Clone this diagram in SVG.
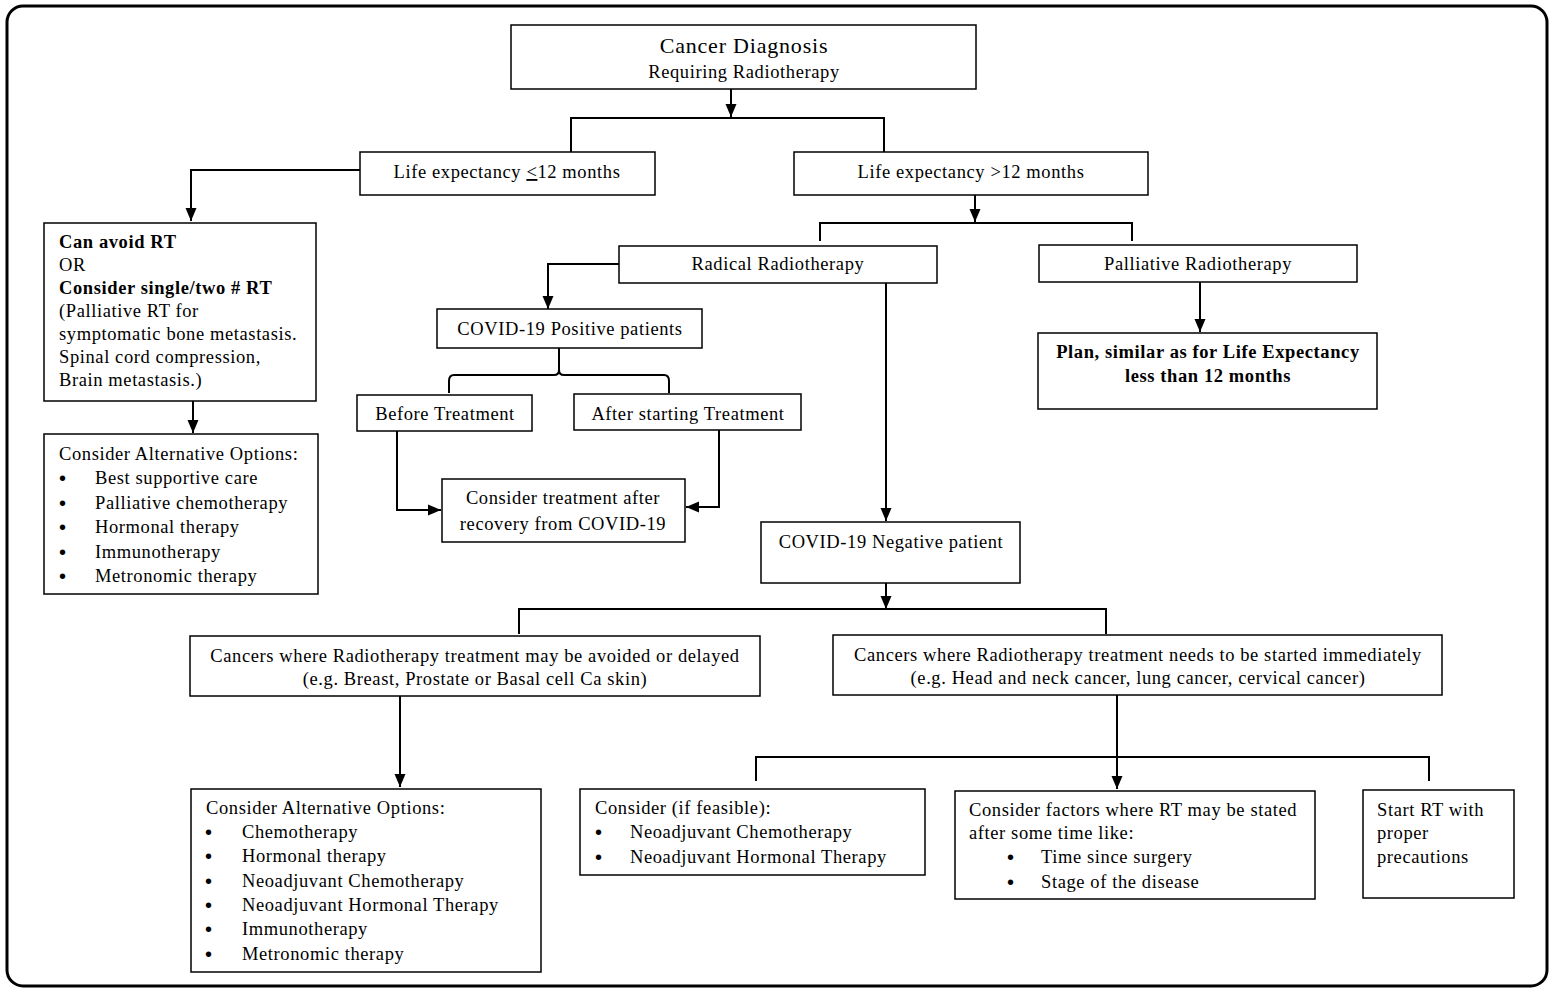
<svg xmlns="http://www.w3.org/2000/svg" width="1559" height="993" viewBox="0 0 1559 993">
<defs>
<marker id="ah" markerWidth="13" markerHeight="13" viewBox="0 0 13 13" refX="13" refY="6.5" orient="auto" markerUnits="userSpaceOnUse">
<path d="M0,1 L13,6.5 L0,12 Z" fill="#000"/>
</marker>
<style>
.b{fill:#fff;stroke:#000;stroke-width:1.5}
.t{font-family:"Liberation Serif","Times New Roman",serif;font-size:18.5px;letter-spacing:0.6px;fill:#000}
.c{text-anchor:middle}
.bd{font-weight:bold}
.bu{font-family:"Liberation Sans",Arial,sans-serif;font-size:20px;fill:#000}
.ln{fill:none;stroke:#000;stroke-width:2}
.ar{fill:none;stroke:#000;stroke-width:2;marker-end:url(#ah)}
</style>
</defs>
<rect x="0" y="0" width="1559" height="993" fill="#fff"/>
<rect x="7" y="6" width="1540" height="980" rx="16" ry="16" fill="none" stroke="#000" stroke-width="3"/>

<g id="connectors">
<path class="ar" d="M731,89 V117"/>
<path class="ln" d="M571,152 V118 H884 V152"/>
<path class="ar" d="M360,170 H191 V221"/>
<path class="ar" d="M975,195 V222"/>
<path class="ln" d="M820,241 V223 H1132 V241"/>
<path class="ar" d="M619,264 H548 V309"/>
<path class="ar" d="M1200,282 V332"/>
<path class="ar" d="M193,401 V433"/>
<path class="ln" d="M559,348 V370 Q559,375 554,375 H454 Q449,375 449,381 V393"/>
<path class="ln" d="M559,370 Q559,375 564,375 H664 Q669,375 669,381 V393"/>
<path class="ar" d="M397,431 V510 H441"/>
<path class="ar" d="M719,430 V507 H686"/>
<path class="ar" d="M886,283 V521"/>
<path class="ar" d="M886,583 V609"/>
<path class="ln" d="M519,634 V609 H1106 V634"/>
<path class="ar" d="M400,696 V787"/>
<path class="ar" d="M1117,695 V789"/>
<path class="ln" d="M756,781 V757 H1429 V781"/>
</g>

<g id="n-diagnosis">
<rect class="b" x="511" y="25" width="465" height="64"/>
<text class="t c" x="744" y="53" style="font-size:22px;letter-spacing:0.8px">Cancer Diagnosis</text>
<text class="t c" x="744" y="78">Requiring Radiotherapy</text>
</g>

<g id="n-le-le12">
<rect class="b" x="360" y="152" width="295" height="43"/>
<text class="t c" x="507" y="178">Life expectancy <tspan text-decoration="underline">&lt;</tspan>12 months</text>
</g>

<g id="n-le-gt12">
<rect class="b" x="794" y="152" width="354" height="43"/>
<text class="t c" x="971" y="178">Life expectancy &gt;12 months</text>
</g>

<g id="n-avoid">
<rect class="b" x="44" y="223" width="272" height="178"/>
<text class="t bd" x="59" y="248">Can avoid RT</text>
<text class="t" x="59" y="271">OR</text>
<text class="t bd" x="59" y="294">Consider single/two # RT</text>
<text class="t" x="59" y="317">(Palliative RT for</text>
<text class="t" x="59" y="340">symptomatic bone metastasis.</text>
<text class="t" x="59" y="363">Spinal cord compression,</text>
<text class="t" x="59" y="386">Brain metastasis.)</text>
</g>

<g id="n-alt-left">
<rect class="b" x="44" y="434" width="274" height="160"/>
<text class="t" x="59" y="460">Consider Alternative Options:</text>
<text class="bu" x="59" y="485">•</text><text class="t" x="95" y="484">Best supportive care</text>
<text class="bu" x="59" y="510">•</text><text class="t" x="95" y="509">Palliative chemotherapy</text>
<text class="bu" x="59" y="534">•</text><text class="t" x="95" y="533">Hormonal therapy</text>
<text class="bu" x="59" y="559">•</text><text class="t" x="95" y="558">Immunotherapy</text>
<text class="bu" x="59" y="583">•</text><text class="t" x="95" y="582">Metronomic therapy</text>
</g>

<g id="n-radical">
<rect class="b" x="619" y="246" width="318" height="37"/>
<text class="t c" x="778" y="270">Radical Radiotherapy</text>
</g>

<g id="n-palliative">
<rect class="b" x="1039" y="245" width="318" height="37"/>
<text class="t c" x="1198" y="270">Palliative Radiotherapy</text>
</g>

<g id="n-plan">
<rect class="b" x="1038" y="333" width="339" height="76"/>
<text class="t c bd" x="1208" y="358">Plan, similar as for Life Expectancy</text>
<text class="t c bd" x="1208" y="382">less than 12 months</text>
</g>

<g id="n-positive">
<rect class="b" x="437" y="309" width="265" height="39"/>
<text class="t c" x="570" y="335">COVID-19 Positive patients</text>
</g>

<g id="n-before">
<rect class="b" x="357" y="395" width="175" height="36"/>
<text class="t c" x="445" y="420">Before Treatment</text>
</g>

<g id="n-after">
<rect class="b" x="574" y="394" width="227" height="36"/>
<text class="t c" x="688" y="420">After starting Treatment</text>
</g>

<g id="n-recovery">
<rect class="b" x="442" y="479" width="243" height="63"/>
<text class="t c" x="563" y="504">Consider treatment after</text>
<text class="t c" x="563" y="530">recovery from COVID-19</text>
</g>

<g id="n-negative">
<rect class="b" x="761" y="522" width="259" height="61"/>
<text class="t c" x="891" y="548">COVID-19 Negative patient</text>
</g>

<g id="n-delay">
<rect class="b" x="190" y="636" width="570" height="60"/>
<text class="t c" x="475" y="662">Cancers where Radiotherapy treatment may be avoided or delayed</text>
<text class="t c" x="475" y="685">(e.g. Breast, Prostate or Basal cell Ca skin)</text>
</g>

<g id="n-immediate">
<rect class="b" x="833" y="635" width="609" height="60"/>
<text class="t c" x="1138" y="661">Cancers where Radiotherapy treatment needs to be started immediately</text>
<text class="t c" x="1138" y="684">(e.g. Head and neck cancer, lung cancer, cervical cancer)</text>
</g>

<g id="n-alt-bottom">
<rect class="b" x="191" y="789" width="350" height="183"/>
<text class="t" x="206" y="814">Consider Alternative Options:</text>
<text class="bu" x="205" y="839">•</text><text class="t" x="242" y="838">Chemotherapy</text>
<text class="bu" x="205" y="863">•</text><text class="t" x="242" y="862">Hormonal therapy</text>
<text class="bu" x="205" y="888">•</text><text class="t" x="242" y="887">Neoadjuvant Chemotherapy</text>
<text class="bu" x="205" y="912">•</text><text class="t" x="242" y="911">Neoadjuvant Hormonal Therapy</text>
<text class="bu" x="205" y="936">•</text><text class="t" x="242" y="935">Immunotherapy</text>
<text class="bu" x="205" y="961">•</text><text class="t" x="242" y="960">Metronomic therapy</text>
</g>

<g id="n-feasible">
<rect class="b" x="580" y="789" width="345" height="86"/>
<text class="t" x="595" y="814">Consider (if feasible):</text>
<text class="bu" x="595" y="839">•</text><text class="t" x="630" y="838">Neoadjuvant Chemotherapy</text>
<text class="bu" x="595" y="864">•</text><text class="t" x="630" y="863">Neoadjuvant Hormonal Therapy</text>
</g>

<g id="n-factors">
<rect class="b" x="955" y="791" width="360" height="108"/>
<text class="t" x="969" y="816">Consider factors where RT may be stated</text>
<text class="t" x="969" y="839">after some time like:</text>
<text class="bu" x="1007" y="864">•</text><text class="t" x="1041" y="863">Time since surgery</text>
<text class="bu" x="1007" y="889">•</text><text class="t" x="1041" y="888">Stage of the disease</text>
</g>

<g id="n-start">
<rect class="b" x="1363" y="790" width="151" height="108"/>
<text class="t" x="1377" y="816">Start RT with</text>
<text class="t" x="1377" y="839">proper</text>
<text class="t" x="1377" y="863">precautions</text>
</g>
</svg>
